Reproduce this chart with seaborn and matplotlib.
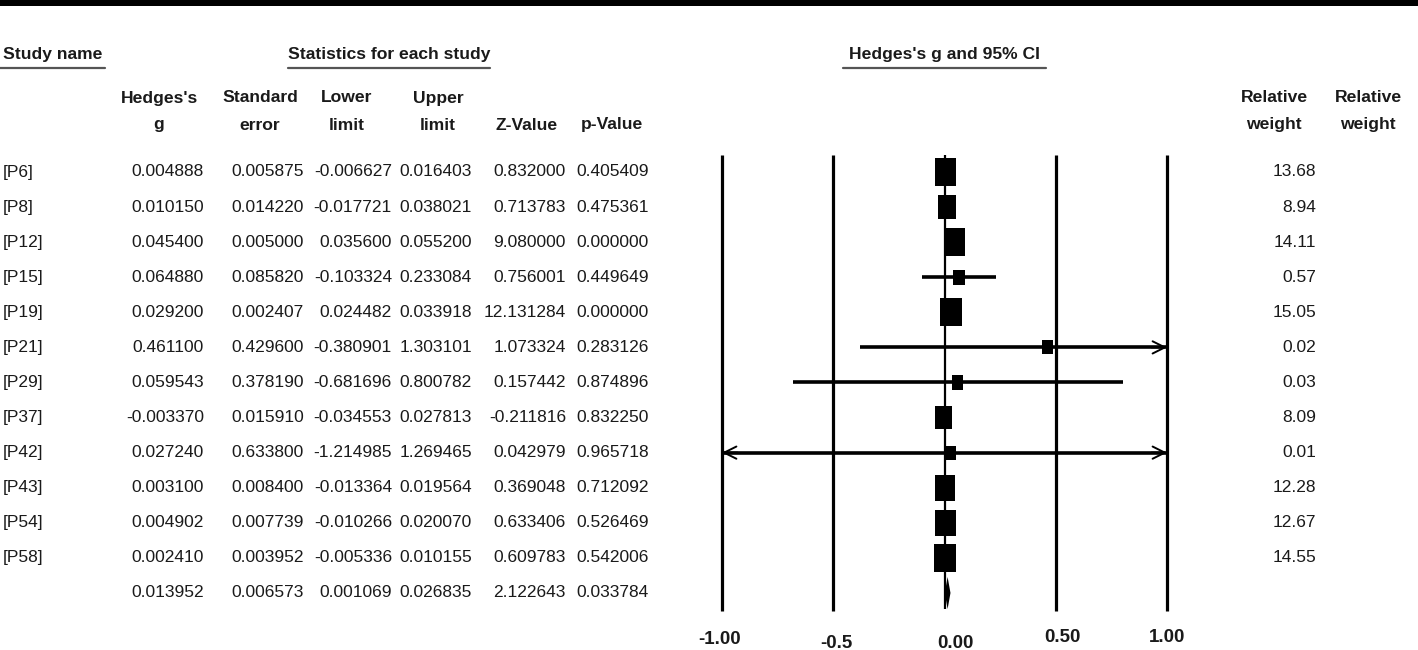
import matplotlib

matplotlib.use("Agg")
import matplotlib.pyplot as plt
import numpy as np
import pandas as pd
import seaborn as sns
from matplotlib.patches import Rectangle
from matplotlib.transforms import blended_transform_factory

sns.set_theme(style="white")
plt.rcParams["font.family"] = ["Liberation Sans Narrow", "Liberation Sans", "DejaVu Sans"]

# --------------------------------------------------------------------------
# data
# --------------------------------------------------------------------------
studies = ["[P6]", "[P8]", "[P12]", "[P15]", "[P19]", "[P21]", "[P29]",
           "[P37]", "[P42]", "[P43]", "[P54]", "[P58]"]
hedges_g = [0.004888, 0.010150, 0.045400, 0.064880, 0.029200, 0.461100,
            0.059543, -0.003370, 0.027240, 0.003100, 0.004902, 0.002410]
std_err = [0.005875, 0.014220, 0.005000, 0.085820, 0.002407, 0.429600,
           0.378190, 0.015910, 0.633800, 0.008400, 0.007739, 0.003952]
lower = [-0.006627, -0.017721, 0.035600, -0.103324, 0.024482, -0.380901,
         -0.681696, -0.034553, -1.214985, -0.013364, -0.010266, -0.005336]
upper = [0.016403, 0.038021, 0.055200, 0.233084, 0.033918, 1.303101,
         0.800782, 0.027813, 1.269465, 0.019564, 0.020070, 0.010155]
z_value = [0.832000, 0.713783, 9.080000, 0.756001, 12.131284, 1.073324,
           0.157442, -0.211816, 0.042979, 0.369048, 0.633406, 0.609783]
p_value = [0.405409, 0.475361, 0.000000, 0.449649, 0.000000, 0.283126,
           0.874896, 0.832250, 0.965718, 0.712092, 0.526469, 0.542006]
rel_weight = [13.68, 8.94, 14.11, 0.57, 15.05, 0.02, 0.03, 8.09, 0.01,
              12.28, 12.67, 14.55]

# pooled estimate: g, se, lower, upper, z, p
pooled = [0.013952, 0.006573, 0.001069, 0.026835, 2.122643, 0.033784]

axis_ticks = [-1.0, -0.5, 0.0, 0.5, 1.0]
axis_labels = ["-1.00", "-0.5", "0.00", "0.50", "1.00"]

df = pd.DataFrame({
    "study": studies, "g": hedges_g, "se": std_err, "lo": lower, "hi": upper,
    "z": z_value, "p": p_value, "weight": rel_weight,
})
df["row"] = np.arange(len(df))
summary_row = len(df)

# --------------------------------------------------------------------------
# layout: figure in pixels, forest axes covers x=-1..1 between px 722 and 1167
# --------------------------------------------------------------------------
W, H = 1418, 650
ROW0, STEP = 172, 35.08          # pixel y of first row, row spacing
TXT = "#1a1a1a"
FS = 12.5                        # table body
FSH = 12.6                       # headers (bold)


def py(p):
    """pixel y -> row units"""
    return (p - ROW0) / STEP


def px(p):
    return p / W


fig = plt.figure(figsize=(W / 100, H / 100), dpi=100)
ax = fig.add_axes([px(722), 0, px(1167 - 722), 1])
ax.set_xlim(-1, 1)
ax.set_ylim(py(H), py(0))
ax.axis("off")
tr = blended_transform_factory(fig.transFigure, ax.transData)

# top rule
fig.add_artist(Rectangle((0, 1 - 6 / H), 1, 6 / H, transform=fig.transFigure,
                         color="black", lw=0))

# grid lines
ax.vlines([t for t in axis_ticks if t != 0], py(155), py(611), color="black",
          lw=2.3, clip_on=False)
ax.vlines(0, py(155), py(609), color="black", lw=1.6, clip_on=False)

# confidence intervals, clipped at the axis limits with arrow heads
for _, r in df.iterrows():
    lo, hi = max(r["lo"], -1), min(r["hi"], 1)
    ax.hlines(r["row"], lo, hi, color="black", lw=2.6, clip_on=False)
    for end, clipped in ((1, r["hi"] > 1), (-1, r["lo"] < -1)):
        if clipped:
            ax.annotate("", xy=(end, r["row"]), xytext=(end * 0.93, r["row"]),
                        annotation_clip=False,
                        arrowprops=dict(arrowstyle="->", lw=1.4, color="black",
                                        mutation_scale=22, shrinkA=0, shrinkB=0))

# boxes sized by relative weight
box = [(-0.77, -1), (0.77, -1), (0.77, 1), (-0.77, 1)]
sns.scatterplot(data=df, x="g", y="row", size="weight", sizes=(102, 406),
                size_norm=(0, 15.05), marker=box, color="black",
                edgecolor="black", linewidth=0, legend=False, ax=ax, zorder=3)

# pooled diamond
est, lo, hi = pooled[0], pooled[2], pooled[3]
half = 16 / STEP
ax.fill([lo, est, hi, est], [summary_row, summary_row - half, summary_row,
                             summary_row + half], color="black", lw=0, zorder=3)

# axis labels (small nudges as in the original export)
label_dx = [-2, 3, 11, 7, 0]
label_py = [640, 643, 643, 638, 638]
for t, lab, dx, yy in zip(axis_ticks, axis_labels, label_dx, label_py):
    ax.text(t + dx * 2 / 445, py(yy), lab, ha="center", va="center",
            fontsize=13.5, fontweight="bold", color=TXT, clip_on=False)

# --------------------------------------------------------------------------
# table text
# --------------------------------------------------------------------------
bold = dict(fontsize=FSH, fontweight="bold", color=TXT, transform=tr)
fig.text(px(3), py(54), "Study name", ha="left", va="center", **bold)
fig.text(px(389), py(54), "Statistics for each study", ha="center", va="center", **bold)
fig.text(px(944), py(54), "Hedges's g and 95% CI", ha="center", va="center", **bold)
for x0, x1 in ((0, 105), (288, 490), (843, 1046)):
    fig.add_artist(plt.Line2D([px(x0), px(x1)], [py(68)] * 2, transform=tr,
                              color="#555555", lw=1.6))

head_top = ["Hedges's", "Standard", "Lower", "Upper", "", "", "Relative", "Relative"]
head_bot = ["g", "error", "limit", "limit", "Z-Value", "p-Value", "weight", "weight"]
head_x = [159, 260, 347, 438, 527, 612, 1274, 1368]
for x, a, b in zip(head_x, head_top, head_bot):
    if a:
        fig.text(px(x), py(98), a, ha="center", va="center", **bold)
    fig.text(px(x), py(125), b, ha="center", va="center", **bold)

col_right = [204, 304, 392, 472, 566, 649]
cols = ["g", "se", "lo", "hi", "z", "p"]
reg = dict(fontsize=FS, color=TXT, transform=tr, va="center")
for _, r in df.iterrows():
    fig.text(px(3), r["row"], r["study"], ha="left", **reg)
    for c, xr in zip(cols, col_right):
        fig.text(px(xr), r["row"], f"{r[c]:.6f}", ha="right", **reg)
    fig.text(px(1316), r["row"], f"{r['weight']:.2f}", ha="right", **reg)
for v, xr in zip(pooled, col_right):
    fig.text(px(xr), summary_row, f"{v:.6f}", ha="right", **reg)

fig.savefig("out.png", dpi=100)
